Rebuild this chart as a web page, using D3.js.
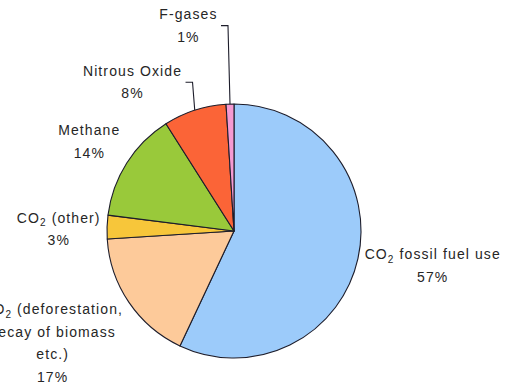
<!DOCTYPE html>
<html>
<head>
<meta charset="utf-8">
<script src="https://cdn.jsdelivr.net/npm/d3@7"></script>
<style>
  html, body { margin: 0; padding: 0; background: #fff; }
  svg { display: block; }
  .lbl { font-family: "Liberation Sans", Arial, sans-serif; font-size: 14px; fill: #262626; letter-spacing: 1.1px; }
</style>
</head>
<body>
<svg id="chart" width="506" height="386"></svg>
<script>
// Share of global anthropogenic greenhouse-gas emissions (%)
const categories = ["CO2 fossil fuel use", "CO2 (deforestation, decay of biomass etc.)", "CO2 (other)", "Methane", "Nitrous Oxide", "F-gases"];
const shares = [57, 17, 3, 14, 8, 1];
// How each category's label wraps onto lines
const labelLines = [
  ["CO2 fossil fuel use"],
  ["CO2 (deforestation,", "decay of biomass", "etc.)"],
  ["CO2 (other)"],
  ["Methane"],
  ["Nitrous Oxide"],
  ["F-gases"]
];
const sliceColors = ["#9ccbfa", "#fdca9a", "#f7c63a", "#99c93a", "#fb6437", "#f59ad2"];

// Layout
const W = 506, H = 386;
const cx = 234, cy = 231, R = 127;
const lineH = 22.5;
// Extra shifts applied to the automatic label placement (px)
const labelNudge = [[0, 0], [-12, 11], [1, 3], [-5, -5], [-45, 1], [-41, -48]];
const withLeader = [false, false, false, false, true, true];

const svg = d3.select("#chart");
const g = svg.append("g").attr("transform", `translate(${cx},${cy})`);

const data = categories.map((c, i) => ({ name: c, value: shares[i], lines: labelLines[i], color: sliceColors[i], i }));
const pie = d3.pie().sort(null).value(d => d.value).startAngle(0).endAngle(2 * Math.PI);
const arcs = pie(data);
const arc = d3.arc().innerRadius(0).outerRadius(R);

g.selectAll("path.slice").data(arcs).join("path")
  .attr("class", "slice")
  .attr("d", arc)
  .attr("fill", d => d.data.color)
  .attr("stroke", "#1d1d2b")
  .attr("stroke-width", 1.1)
  .attr("stroke-linejoin", "round");

// Writes a line of text, turning the "2" of "CO2" into a subscript
function writeLine(textSel, str) {
  const m = str.match(/^(.*?CO)2(.*)$/);
  if (m) {
    textSel.append("tspan").text(m[1]);
    textSel.append("tspan").attr("dy", 3.5).style("font-size", "10px").text("2");
    textSel.append("tspan").attr("dy", -3.5).text(m[2]);
  } else {
    textSel.text(str);
  }
}

const labelLayer = svg.append("g");
arcs.forEach((a, k) => {
  const d = a.data;
  const mid = (a.startAngle + a.endAngle) / 2;
  const s = Math.sin(mid), c = Math.cos(mid);
  const grp = labelLayer.append("g");
  const pct = d.value + "%";
  const allLines = d.lines.concat([pct]);
  const texts = allLines.map(str => {
    const t = grp.append("text").attr("class", "lbl").attr("text-anchor", "middle");
    writeLine(t, str);
    return t;
  });
  const w = d3.max(texts, t => t.node().getComputedTextLength());
  const h = allLines.length * lineH;
  // anchor point just outside the rim, label box pushed away from it
  const rr = R + 8;
  const px = cx + s * rr, py = cy - c * rr;
  const bx = px + s * w / 2 + labelNudge[k][0];
  const by = py - c * h / 2 + labelNudge[k][1];
  const top = by - h / 2;
  texts.forEach((t, j) => {
    t.attr("x", bx + 0.55).attr("y", top + j * lineH + 16.25);
  });
  if (withLeader[k]) {
    const rimX = cx + s * R, rimY = cy - c * R;
    const x0 = bx + w / 2 + 4;
    const yL = by;
    const x1 = Math.min(x0 + 7, rimX - 1);
    svg.append("path")
      .attr("d", d3.line()([[x0, yL], [x1, yL], [rimX, rimY]]))
      .attr("fill", "none")
      .attr("stroke", "#1d1d2b")
      .attr("stroke-width", 1.1);
  }
});
</script>
</body>
</html>
